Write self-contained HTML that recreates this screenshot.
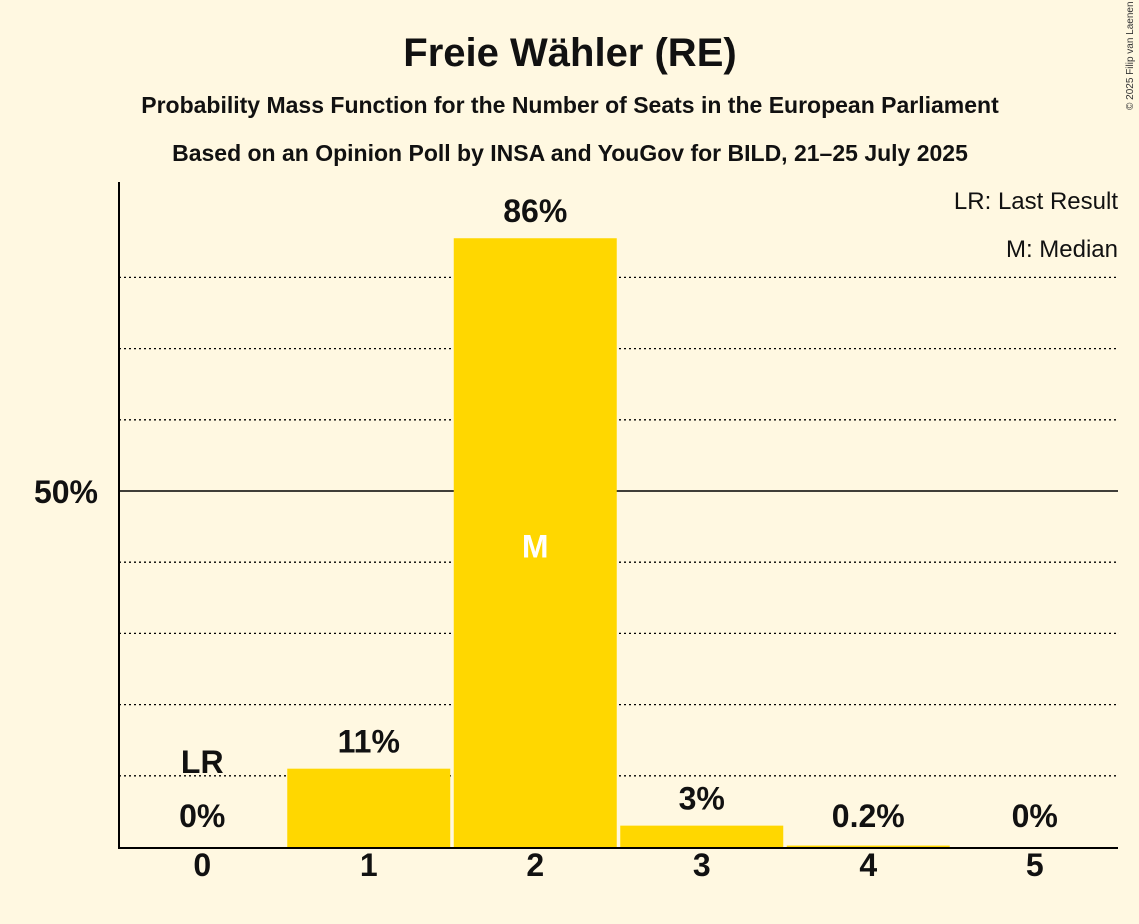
<!DOCTYPE html>
<html><head><meta charset="utf-8"><style>
body{margin:0;background:#fff8e1;}
svg{display:block;font-family:"Liberation Sans",sans-serif;}
</style></head><body>
<svg width="1139" height="924">
<rect width="1139" height="924" fill="#fff8e1"/>
<text x="570" y="66" text-anchor="middle" font-size="40" font-weight="bold" fill="#111">Freie Wähler (RE)</text>
<text x="570" y="113" text-anchor="middle" font-size="23" font-weight="bold" fill="#111">Probability Mass Function for the Number of Seats in the European Parliament</text>
<text x="570" y="161" text-anchor="middle" font-size="23" font-weight="bold" fill="#111">Based on an Opinion Poll by INSA and YouGov for BILD, 21–25 July 2025</text>
<text x="1133" y="110" font-size="10" fill="#333" transform="rotate(-90 1133 110)">© 2025 Filip van Laenen</text>
<text x="1118" y="209" text-anchor="end" font-size="24" fill="#111">LR: Last Result</text>
<text x="1118" y="257" text-anchor="end" font-size="24" fill="#111">M: Median</text>
<g id="grid"></g>
<g id="bars"></g>
<g id="labels"></g>
<line x1="119" y1="182" x2="119" y2="848" stroke="#000" stroke-width="2"/>
<line x1="118" y1="848" x2="1118" y2="848" stroke="#000" stroke-width="2"/>
<text x="98" y="503" text-anchor="end" font-size="32" font-weight="bold" fill="#111">50%</text>
</svg>
<script>
const categories=[0,1,2,3,4,5];
const values=[0,11,85.5,3,0.2,0];
const valueLabels=["0%","11%","86%","3%","0.2%","0%"];
const lastResult=0;
const median=2;
const gridTicks=[10,20,30,40,60,70,80];
const NS="http://www.w3.org/2000/svg";
const x0=119,x1=1118,yBase=847,pxPer=7.12;
const step=(x1-x0)/categories.length;
const xc=i=>x0+step*(i+0.5);
const y=v=>yBase-v*pxPer;
function mk(tag,attrs,parent){const e=document.createElementNS(NS,tag);for(const k in attrs)e.setAttribute(k,attrs[k]);document.getElementById(parent).appendChild(e);return e;}
gridTicks.forEach(t=>{const l=mk('line',{x1:x0,x2:x1,y1:y(t),y2:y(t),stroke:'#000','stroke-width':1.3,'stroke-dasharray':'2,3'},'grid');

});
const l50=mk('line',{x1:x0,x2:x1,y1:y(50),y2:y(50),stroke:'#000','stroke-width':1.5},'grid');


categories.forEach((c,i)=>{
const h=values[i]*pxPer;
const b=mk('rect',{x:xc(i)-81.5,y:yBase-h,width:163,height:h,fill:'#ffd700'},'bars');


const ly=Math.min(y(values[i])-16,yBase-20);
const t=mk('text',{x:xc(i),y:ly,'text-anchor':'middle','font-size':32,'font-weight':'bold',fill:'#111'},'labels');t.textContent=valueLabels[i];


const xt=mk('text',{x:xc(i),y:876,'text-anchor':'middle','font-size':32,'font-weight':'bold',fill:'#111'},'labels');xt.textContent=c;


if(c===lastResult){const lr=mk('text',{x:xc(i),y:ly-54,'text-anchor':'middle','font-size':32,'font-weight':'bold',fill:'#111'},'labels');lr.textContent='LR';

}
if(c===median){const m=mk('text',{x:xc(i),y:y(values[i]/2)+15,'text-anchor':'middle','font-size':32,'font-weight':'bold',fill:'#fff'},'labels');m.textContent='M';

}
});
</script>
</body></html>
